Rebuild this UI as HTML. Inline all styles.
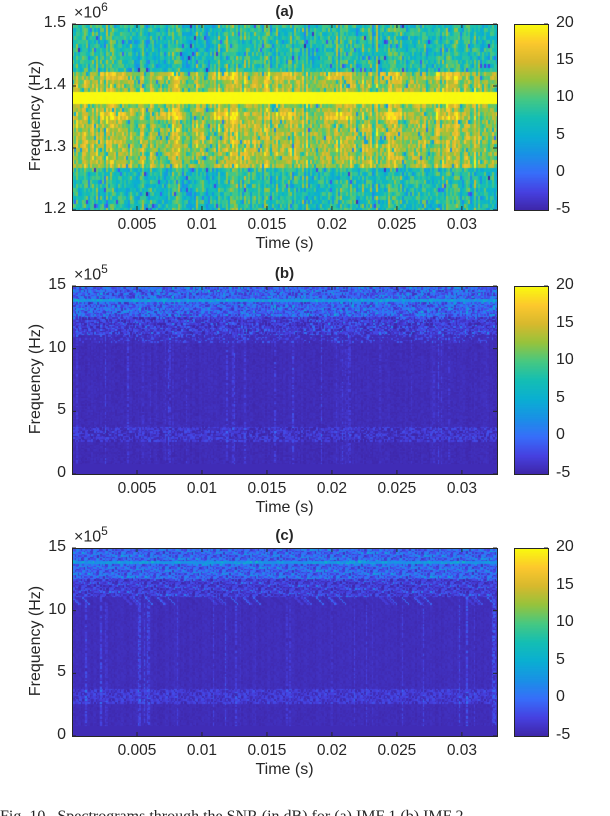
<!DOCTYPE html>
<html><head><meta charset="utf-8">
<style>
html,body{margin:0;padding:0;background:#fff;width:610px;height:816px;overflow:hidden;position:relative;font-family:"Liberation Sans",sans-serif;color:#262626}
.t{position:absolute;font-size:15px;white-space:nowrap}
canvas{position:absolute}
.ax{position:absolute;border:1px solid #262626;box-sizing:border-box}
</style></head><body>
<div id="root"></div>
<div class="t" style="left:0;top:808px;font-family:'Liberation Serif',serif;font-size:16px;">Fig. 10.&nbsp; Spectrograms through the SNR (in dB) for (a) IMF 1 (b) IMF 2</div>
<script>
// ---- data ----
const xTicks=[0.005,0.01,0.015,0.02,0.025,0.03];
const xTickLabels=["0.005","0.01","0.015","0.02","0.025","0.03"];
const tMax=0.0327;
const cbTicks=[-5,0,5,10,15,20];
const cLim=[-5,20];
const aYTicks=[1.2,1.3,1.4,1.5];
const aYLabels=["1.2","1.3","1.4","1.5"];
const bYTicks=[0,5,10,15];
const bYLabels=["0","5","10","15"];
// panel (a) band profile
const aBandLo=[1.20,1.27,1.345,1.357,1.371,1.39,1.41,1.421];
const aBandHi=[1.27,1.345,1.357,1.371,1.39,1.41,1.421,1.50];
const aBandMean=[8,13,16,13,20,13,15.5,8];
const aBandSpread=[3,3,2.5,3,0.2,3,2.5,3];
// panels (b),(c) profile (x1e5)
const bBandLo=[0,2.5,3.8,11,12.5];
const bBandHi=[2.5,3.8,11,12.5,15];
const bBandMean=[-4.4,-3.6,-4.3,-3.5,-1.2];
const bBandSpread=[0.4,2,0.4,2,3];
const bLineFreq=13.8, bLineVal=2.5;

const panels=[
 {id:'a',top:24,bot:210,title:'(a)',exp:'6',yMin:1.2,yMax:1.5,ticks:aYTicks,labels:aYLabels,lo:aBandLo,hi:aBandHi,mean:aBandMean,sp:aBandSpread,seed:11},
 {id:'b',top:286,bot:474,title:'(b)',exp:'5',yMin:0,yMax:15,ticks:bYTicks,labels:bYLabels,lo:bBandLo,hi:bBandHi,mean:bBandMean,sp:bBandSpread,seed:23},
 {id:'c',top:548,bot:736,title:'(c)',exp:'5',yMin:0,yMax:15,ticks:bYTicks,labels:bYLabels,lo:bBandLo,hi:bBandHi,mean:bBandMean,sp:bBandSpread,seed:37}
];
const L=72,R=497,CBL=514,CBR=548;
const stops=[[62,38,168],[70,65,225],[55,110,250],[25,145,230],[10,175,210],[20,190,180],[70,200,130],[150,195,60],[215,185,45],[252,200,45],[249,251,14]];
function parula(v){let u=(v-cLim[0])/(cLim[1]-cLim[0]);u=Math.max(0,Math.min(1,u))*10;const i=Math.min(9,Math.floor(u)),f=u-i;const a=stops[i],b=stops[i+1];return [a[0]+(b[0]-a[0])*f,a[1]+(b[1]-a[1])*f,a[2]+(b[2]-a[2])*f];}
function rng(s){return function(){s=(s*1103515245+12345)&0x7fffffff;return s/0x7fffffff;};}
const xs=t=>L+t/tMax*(R-L);
const root=document.getElementById('root');
function txt(s,x,y,name,extra){const d=document.createElement('div');d.className='t';d.textContent=s;d.style.left=x+'px';d.style.top=y+'px';if(extra)Object.assign(d.style,extra);


root.appendChild(d);return d;}
panels.forEach(p=>{
 const H=p.bot-p.top,W=R-L;
 const ys=f=>p.bot-(f-p.yMin)/(p.yMax-p.yMin)*H;
 const cv=document.createElement('canvas');cv.width=W;cv.height=H;cv.style.left=L+'px';cv.style.top=p.top+'px';
 
 
 root.appendChild(cv);
 const ctx=cv.getContext('2d');const img=ctx.createImageData(W,H);const r=rng(p.seed);
 const isA=p.id==='a';
 const cw=isA?2:1.5, rh=isA?4:1.5;
 const nC=Math.ceil(W/cw), nR=Math.ceil(H/rh);
 const colBoost=[];for(let c=0;c<nC;c++){colBoost.push(!isA&&r()<0.12?r()*3.5:0);}
 const colShift=[];for(let c=0;c<nC;c++)colShift.push(isA?(r()-0.5)*8:(r()-0.5)*0.4);
 for(let rr=0;rr<nR;rr++){
  const yc=rr*rh+rh/2;const f=p.yMin+(H-yc)/H*(p.yMax-p.yMin);
  let bi=0;for(let k=0;k<p.lo.length;k++)if(f>=p.lo[k]&&f<p.hi[k])bi=k;
  for(let c=0;c<nC;c++){
   let v=p.mean[bi]+(r()-0.5)*2*p.sp[bi];
   if(isA){ if(bi!==4) v+=colShift[c]*(r()<0.7?1:0.3); if(r()<0.03&&bi!==4) v-=8; }
   else v+=colShift[c];
   if(isA&&(bi===6||bi===2)&&Math.floor(c/14)%2===0)v-=3;
   if(!isA){
     if(f<11&&f>0.8&&r()<0.8)v+=colBoost[c]*r();
     if(Math.abs(f-bLineFreq)<0.12)v=bLineVal+(r()-0.5)*2;
     if(f>10.5&&r()<0.3)v+=r()*4;
     if(f<0.8)v=-4.4;
   }
   const col=parula(v);
   const x0=Math.floor(c*cw),x1=Math.min(W,Math.floor((c+1)*cw)),y0=Math.floor(rr*rh),y1=Math.min(H,Math.floor((rr+1)*rh));
   for(let y=y0;y<y1;y++)for(let x=x0;x<x1;x++){const i=(y*W+x)*4;img.data[i]=col[0];img.data[i+1]=col[1];img.data[i+2]=col[2];img.data[i+3]=255;}
  }
 }
 ctx.putImageData(img,0,0);
 const ax=document.createElement('div');ax.className='ax';ax.style.left=L+'px';ax.style.top=p.top+'px';ax.style.width=(W+1)+'px';ax.style.height=(H+1)+'px';
 
 
 root.appendChild(ax);
 const svgNS='http://www.w3.org/2000/svg';
 const sv=document.createElementNS(svgNS,'svg');sv.setAttribute('width',610);sv.setAttribute('height',816);sv.style.position='absolute';sv.style.left='0';sv.style.top='0';
 
 
 root.appendChild(sv);
 function ln(x1,y1,x2,y2){const l=document.createElementNS(svgNS,'line');l.setAttribute('x1',x1);l.setAttribute('y1',y1);l.setAttribute('x2',x2);l.setAttribute('y2',y2);l.setAttribute('stroke','#262626');l.setAttribute('stroke-width','1');sv.appendChild(l);}
 xTicks.forEach((t,i)=>{const x=xs(t);ln(x,p.bot,x,p.bot-4);ln(x,p.top,x,p.top+4);
   txt(xTickLabels[i],x-30,p.bot+6,'x-tick-label',{width:'60px',textAlign:'center',fontSize:'15.5px'});});
 p.ticks.forEach((f,i)=>{const y=ys(f);ln(L,y,L+4,y);ln(R,y,R-4,y);
   txt(p.labels[i],L-50,y-10,'y-tick-label',{width:'44px',textAlign:'right',fontSize:'16px'});});
 txt('Time (s)',L+(R-L)/2-35,p.bot+25,'x-axis-title',{width:'70px',textAlign:'center',fontSize:'16px'});
 txt('Frequency (Hz)',36-65,p.top+H/2-10,'y-axis-title',{width:'130px',textAlign:'center',transform:'rotate(-90deg)',fontSize:'16px'});
 txt(p.title,L+(R-L)/2-20,p.top-21,'panel-title',{width:'40px',textAlign:'center',fontWeight:'bold',fontSize:'15px'});
 const e=txt('',L+2,p.top-24,'axis-exponent',{fontSize:'16px'});e.innerHTML='&times;10<sup style="font-size:12px">'+p.exp+'</sup>';
 const cb=document.createElement('canvas');const cbh=p.bot-p.top;cb.width=CBR-CBL;cb.height=cbh;cb.style.left=CBL+'px';cb.style.top=p.top+'px';
 
 
 root.appendChild(cb);
 const cc=cb.getContext('2d');for(let y=0;y<cbh;y++){const v=cLim[1]-(y/cbh)*(cLim[1]-cLim[0]);const c=parula(v);cc.fillStyle='rgb('+c.map(Math.round).join(',')+')';cc.fillRect(0,y,CBR-CBL,1);}
 const cba=document.createElement('div');cba.className='ax';cba.style.left=CBL+'px';cba.style.top=p.top+'px';cba.style.width=(CBR-CBL+1)+'px';cba.style.height=(cbh+1)+'px';
 
 
 root.appendChild(cba);
 cbTicks.forEach(v=>{const y=p.bot-(v-cLim[0])/(cLim[1]-cLim[0])*cbh;ln(CBR-4,y,CBR,y);
   txt(String(v),CBR+8,y-10,'colorbar-tick-label',{fontSize:'16px'});});
});
</script>
</body></html>
